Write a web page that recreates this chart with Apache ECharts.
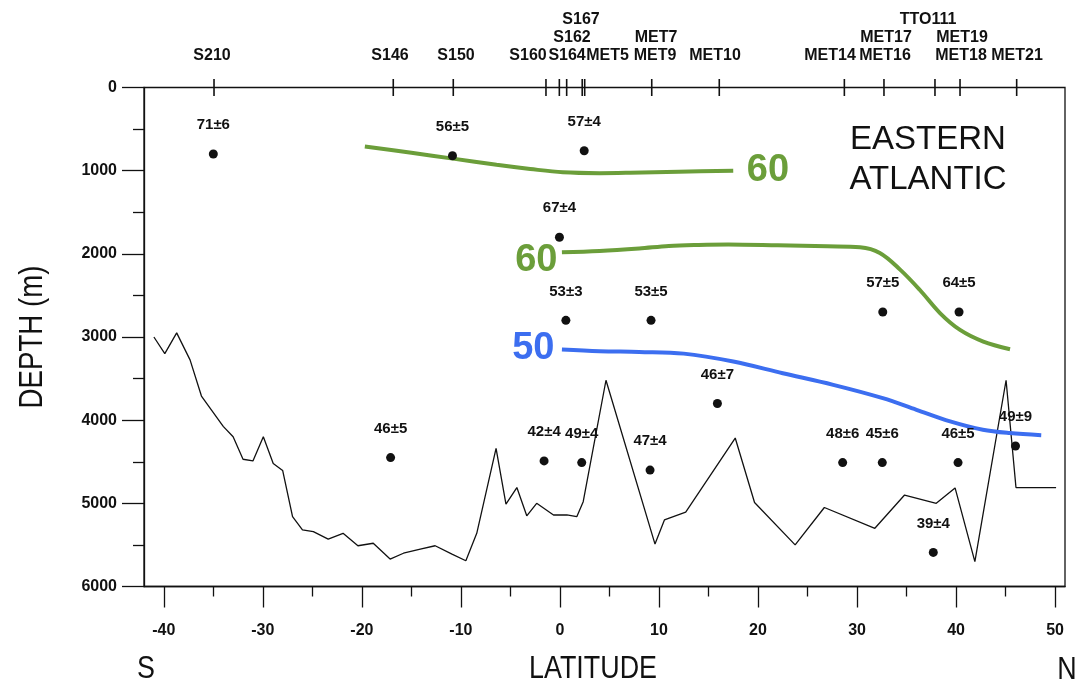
<!DOCTYPE html>
<html>
<head>
<meta charset="utf-8">
<script src="https://cdn.jsdelivr.net/npm/echarts@6/dist/echarts.min.js"></script>
<style>
html,body{margin:0;padding:0;background:#fff;}
#chart{width:1085px;height:685px;}
</style>
</head>
<body>
<div id="chart"></div>
<script>
// ---------- DATA ----------
const latTicks = [-40, -30, -20, -10, 0, 10, 20, 30, 40, 50];
const latMinorTicks = [-35, -25, -15, -5, 5, 15, 25, 35, 45];

// bathymetry profile [latitude, depth m]
const bathymetry = [
  [-41,3000],[-39.9,3200],[-38.7,2950],[-37.35,3275],[-36.2,3710],[-35.2,3875],[-34,4075],[-33,4200],
  [-32,4470],[-31,4490],[-29.95,4200],[-28.95,4520],[-28,4605],[-27,5160],[-26,5320],[-24.9,5340],
  [-23.4,5430],[-21.9,5360],[-20.4,5510],[-18.85,5480],[-17.15,5670],[-15.8,5600],[-14.1,5550],
  [-12.6,5510],[-10.9,5610],[-9.5,5690],[-8.4,5360],[-6.45,4340],[-5.45,5010],[-4.35,4810],
  [-3.35,5150],[-2.35,5000],[-0.65,5140],[0.7,5140],[1.7,5160],[2.35,4980],[4.65,3520],[9.6,5490],
  [10.55,5200],[12.7,5105],[17.7,4215],[19.65,4990],[23.75,5500],[26.7,5050],[31.8,5300],[34.8,4900],
  [38,5000],[39.9,4815],[41.9,5700],[45.05,3520],[46.05,4810],[50.1,4810]
];

// isolines
const iso60Upper = [[-19.7,710],[-15,785],[-10.8,855],[-6.4,930],[-3,980],[0.3,1020],[4,1030],[7.1,1025],[12,1012],[17.5,1000]];
const iso60Lower = [[0.2,1980],[4,1965],[8,1935],[11,1905],[14,1893],[17,1888],[22,1898],[27,1910],[30.3,1922],[32.3,1990],[34.35,2190],[36.35,2435],[38.4,2715],[40.4,2915],[42.75,3055],[45.45,3147]];
const iso50 = [[0.2,3150],[4,3170],[8,3180],[12.5,3200],[17.5,3295],[22.5,3435],[27.6,3575],[32.6,3735],[36,3875],[39.4,4015],[42.7,4115],[45.4,4155],[48.6,4180]];
const isoLabels = ['60', '60', '50'];

// samples
const sampleLat   = [-35.0, -10.85, 2.45, -0.05, 0.6, 9.2, 32.6, 40.3, 15.9, -17.1, -1.6, 2.2, 9.1, 28.55, 32.55, 40.2, 37.7, 46.0];
const sampleDepth = [800, 820, 760, 1800, 2800, 2800, 2700, 2700, 3800, 4450, 4490, 4510, 4600, 4510, 4510, 4510, 5590, 4310];
const sampleText  = ['71±6','56±5','57±4','67±4','53±3','53±5','57±5','64±5','46±7','46±5','42±4','49±4','47±4','48±6','45±6','46±5','39±4','49±9'];

// station ticks on the top axis (latitude)
const stationTickLat = [-34.93, -16.83, -10.77, -1.41, -0.06, 0.68, 2.25, 2.5, 9.27, 16.09, 28.72, 32.72, 37.87, 40.4, 46.12];

// station labels: name, latitude of label centre, row (1 = lowest)
const stationNames = ['S210','S146','S150','S160','S164','MET5','MET9','MET10','MET14','MET16','MET18','MET21',
                      'S162','MET7','MET17','MET19','S167','TTO111'];
const stationLabelLat = [-35.13,-17.16,-10.49,-3.22,0.72,4.8,9.6,15.66,27.27,32.83,40.5,46.16,
                         1.22,9.7,32.93,40.6,2.13,37.17];
const stationRow = [1,1,1,1,1,1,1,1,1,1,1,1,2,2,2,2,3,3];

// ---------- CHART ----------
const GREEN = '#6b9e3a', BLUE = '#3c6ef0', INK = '#111111';
const SANS = "'Liberation Sans', Arial, Helvetica, sans-serif";

const chart = echarts.init(document.getElementById('chart'), null, {renderer: 'canvas'});

function isoSeries(data, color, labelText, atEnd, offset, dist) {
  const p = atEnd ? data[data.length - 1] : data[0];
  return {
    type: 'line', data: data, smooth: 0.35, symbol: 'none', z: 3,
    lineStyle: {color: color, width: 4},
    markPoint: {
      symbol: 'circle', symbolSize: 1, itemStyle: {color: 'rgba(0,0,0,0)'},
      animation: false,
      data: [{coord: p, value: labelText,
        label: {show: true, formatter: labelText, position: atEnd ? 'right' : 'left', distance: dist,
          offset: offset, color: color, fontSize: 38, fontWeight: 'bold', fontFamily: SANS}}]
    }
  };
}

const option = {
  animation: false,
  backgroundColor: '#fff',
  grid: [
    {left: 144, right: 20, top: 87.5, bottom: 98.5, show: true, borderColor: INK, borderWidth: 1.3, backgroundColor: 'transparent'},
    {left: 144, right: 20, top: 2, height: 72, show: false}
  ],
  xAxis: [
    {type: 'value', gridIndex: 0, position: 'bottom', min: -42, max: 51,
     axisLine: {show: true, onZero: false, lineStyle: {color: INK, width: 1.3}},
     axisTick: {show: true, inside: false, length: 21, customValues: latTicks, lineStyle: {color: INK, width: 1.3}},
     axisLabel: {show: true, customValues: latTicks, margin: 36, color: INK, fontSize: 16, fontWeight: 'bold', fontFamily: SANS},
     splitLine: {show: false}},
    {type: 'value', gridIndex: 0, position: 'bottom', min: -42, max: 51,
     axisLine: {show: false, onZero: false},
     axisTick: {show: true, length: 10, customValues: latMinorTicks, lineStyle: {color: INK, width: 1.3}},
     axisLabel: {show: false}, splitLine: {show: false}},
    {type: 'value', gridIndex: 1, min: -42, max: 51, show: false, axisLine: {onZero: false}}
  ],
  yAxis: [
    {type: 'value', gridIndex: 0, inverse: true, min: 0, max: 6000, interval: 1000,
     axisLine: {show: true, onZero: false, lineStyle: {color: INK, width: 1.3}},
     axisTick: {show: true, length: 22, lineStyle: {color: INK, width: 1.3}},
     minorTick: {show: true, splitNumber: 2, length: 11, lineStyle: {color: INK, width: 1.3}},
     axisLabel: {margin: 27, color: INK, fontSize: 16, fontWeight: 'bold', fontFamily: SANS,
       formatter: v => String(v)},
     splitLine: {show: false}, minorSplitLine: {show: false}},
    {type: 'value', gridIndex: 1, min: 0, max: 4, show: false, axisLine: {onZero: false}}
  ],
  series: [
    {type: 'line', name: 'bathymetry', data: bathymetry, symbol: 'none', z: 2,
     lineStyle: {color: INK, width: 1.3}},
    isoSeries(iso60Upper, GREEN, isoLabels[0], true, [0, 0], 13),
    isoSeries(iso60Lower, GREEN, isoLabels[1], false, [0, 8], 4),
    isoSeries(iso50, BLUE, isoLabels[2], false, [0, -1], 7),
    {type: 'scatter', name: 'samples', z: 5, symbol: 'circle', symbolSize: 9,
     itemStyle: {color: INK, opacity: 1},
     data: sampleLat.map((v, i) => ({value: [v, sampleDepth[i]], name: sampleText[i]})),
     label: {show: true, position: 'top', distance: 17, formatter: '{b}', color: INK, opacity: 1,
       fontSize: 15, fontWeight: 'bold', fontFamily: SANS, lineHeight: 15}},
    {type: 'scatter', name: 'stationTicks', z: 6, clip: false, symbol: 'rect',
     symbolSize: [1.6, 17], itemStyle: {color: INK, opacity: 1},
     data: stationTickLat.map(v => [v, 0])},
    {type: 'scatter', name: 'stationLabels', xAxisIndex: 2, yAxisIndex: 1, symbolSize: 0,
     itemStyle: {opacity: 1},
     data: stationNames.map((n, i) => ({value: [stationLabelLat[i], stationRow[i]], name: n})),
     label: {show: true, position: 'inside', formatter: '{b}', color: INK, opacity: 1,
       fontSize: 16, fontWeight: 'bold', fontFamily: SANS}}
  ],
  graphic: [
    {type: 'text', x: 33, y: 337, rotation: Math.PI / 2, scaleX: 0.84,
     style: {text: 'DEPTH (m)', fill: INK, font: '33px ' + SANS, textAlign: 'center', textVerticalAlign: 'middle'}},
    {type: 'text', x: 146, y: 669, scaleX: 0.84,
     style: {text: 'S', fill: INK, font: '32px ' + SANS, textAlign: 'center', textVerticalAlign: 'middle'}},
    {type: 'text', x: 593, y: 669, scaleX: 0.84,
     style: {text: 'LATITUDE', fill: INK, font: '32px ' + SANS, textAlign: 'center', textVerticalAlign: 'middle'}},
    {type: 'text', x: 1067, y: 670, scaleX: 0.84,
     style: {text: 'N', fill: INK, font: '32px ' + SANS, textAlign: 'center', textVerticalAlign: 'middle'}},
    {type: 'text', x: 928, y: 140,
     style: {text: 'EASTERN', fill: INK, font: '33px ' + SANS, textAlign: 'center', textVerticalAlign: 'middle'}},
    {type: 'text', x: 928, y: 180,
     style: {text: 'ATLANTIC', fill: INK, font: '33px ' + SANS, textAlign: 'center', textVerticalAlign: 'middle'}}
  ]
};
chart.setOption(option);
</script>
</body>
</html>
